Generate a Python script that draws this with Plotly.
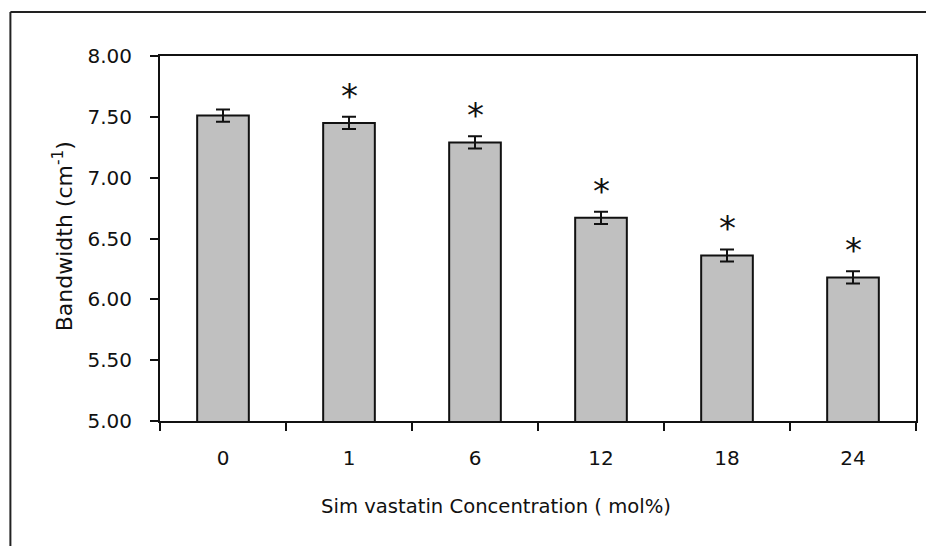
import plotly.graph_objects as go

# Simvastatin concentration (mol%) and measured bandwidth (cm^-1)
concentrations = ["0", "1", "6", "12", "18", "24"]
bandwidth = [7.51, 7.45, 7.29, 6.67, 6.36, 6.18]
bandwidth_err = [0.05, 0.05, 0.05, 0.05, 0.05, 0.05]
significant = [False, True, True, True, True, True]
y_ticks = [5.0, 5.5, 6.0, 6.5, 7.0, 7.5, 8.0]

FONT = "DejaVu Sans"
INK = "#111111"

fig = go.Figure()
fig.add_trace(go.Bar(
    x=concentrations,
    y=bandwidth,
    marker=dict(color="#c0c0c0", line=dict(color=INK, width=2)),
    error_y=dict(type="data", array=bandwidth_err, visible=True,
                 color=INK, thickness=2, width=7),
    showlegend=False,
))

# Asterisks marking significant differences, above each error bar
annotations = []
for i, (v, e, s) in enumerate(zip(bandwidth, bandwidth_err, significant)):
    if s:
        annotations.append(dict(
            x=i, y=v + e, xref="x", yref="y", text="*", showarrow=False,
            font=dict(family=FONT, size=34, color=INK),
            xanchor="center", yanchor="middle", yshift=21,
        ))

# Axis titles
annotations.append(dict(
    x=497, y=507, xref="paper", yref="paper", text="Sim vastatin Concentration ( mol%)",
    showarrow=False, font=dict(family=FONT, size=19.6, color=INK),
    xanchor="center", yanchor="middle",
))
annotations.append(dict(
    x=63, y=236, xref="paper", yref="paper", text="Bandwidth (cm<sup>-1</sup>)",
    showarrow=False, font=dict(family=FONT, size=22, color=INK),
    textangle=-90, xanchor="center", yanchor="middle",
))

W, H = 926, 546
L, R, T, B = 160, 8, 56, 125
pw, ph = W - L - R, H - T - B


def px_to_paper(a):
    a = dict(a)
    if a["xref"] == "paper":
        a["x"] = (a["x"] - L) / pw
        a["y"] = (H - B - a["y"]) / ph
    return a


annotations = [px_to_paper(a) for a in annotations]

# Outer frame around the figure (runs off the right and bottom edges)
fx0 = (10 - L) / pw
fy1 = (H - B - 12) / ph
shapes = [
    dict(type="line", xref="paper", yref="paper", x0=fx0, x1=1.2, y0=fy1, y1=fy1,
         line=dict(color="#222222", width=2)),
    dict(type="line", xref="paper", yref="paper", x0=fx0, x1=fx0, y0=fy1, y1=-0.6,
         line=dict(color="#222222", width=2)),
]

fig.update_layout(
    width=W, height=H,
    margin=dict(l=L, r=R, t=T, b=B),
    paper_bgcolor="white", plot_bgcolor="white",
    bargap=0.59,
    font=dict(family=FONT, size=20, color=INK),
    annotations=annotations,
    shapes=shapes,
)
fig.update_xaxes(
    type="category", range=[-0.5, len(concentrations) - 0.5],
    showline=True, linecolor=INK, linewidth=2, mirror=True,
    ticks="outside", tickson="boundaries", ticklen=8, tickwidth=2, tickcolor=INK,
    ticklabelstandoff=18, tickangle=0, showgrid=False, zeroline=False,
    tickfont=dict(family=FONT, size=20, color=INK),
)
fig.update_yaxes(
    range=[5, 8], tickvals=y_ticks, tickformat=".2f",
    showline=True, linecolor=INK, linewidth=2, mirror=True,
    ticks="outside", ticklen=8, tickwidth=2, tickcolor=INK,
    ticklabelstandoff=14, showgrid=False, zeroline=False,
    tickfont=dict(family=FONT, size=20, color=INK),
)

fig.write_html("out.html")
